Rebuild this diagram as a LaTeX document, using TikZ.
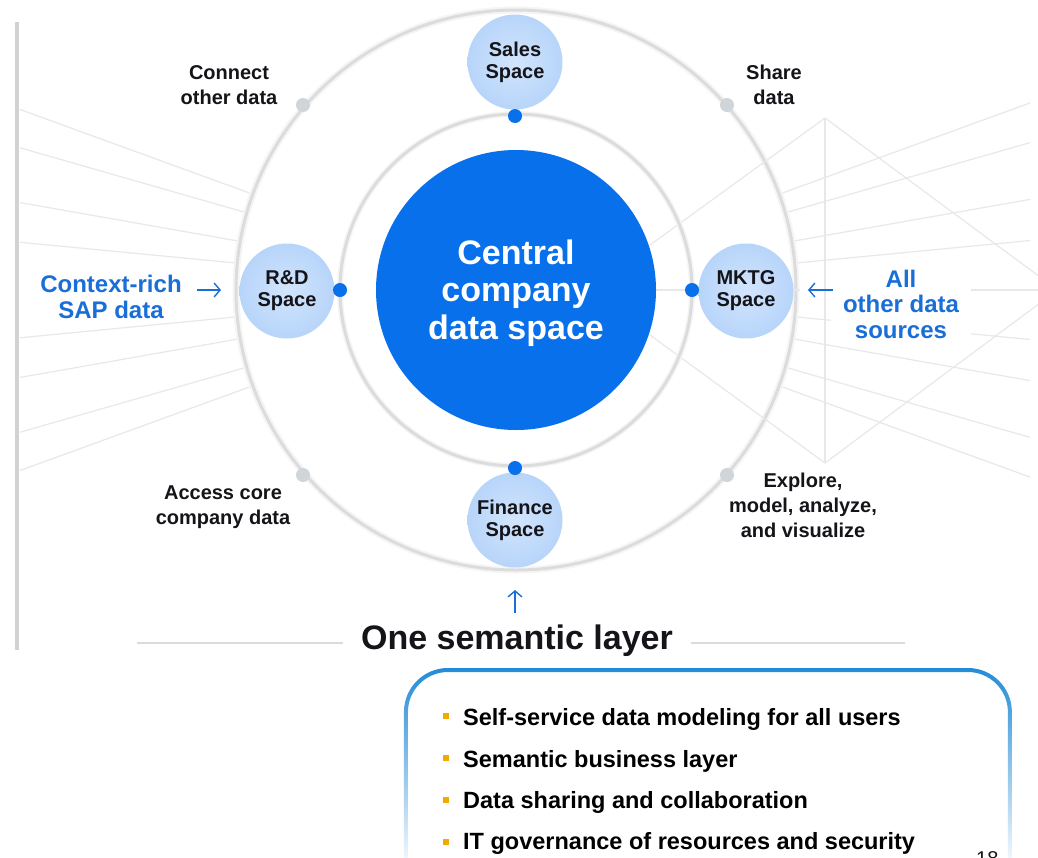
\documentclass[tikz,border=0pt]{standalone}
\usepackage{fontspec}
\setmainfont{Liberation Sans}
\usetikzlibrary{arrows.meta,fadings}
\definecolor{cblue}{RGB}{8,112,235}
\definecolor{lblue}{RGB}{25,110,215}
\definecolor{satin}{RGB}{210,229,253}
\definecolor{satout}{RGB}{150,192,245}
\definecolor{ringgray}{RGB}{220,220,220}
\definecolor{linegray}{RGB}{232,232,232}
\definecolor{dotgray}{RGB}{208,213,218}
\definecolor{boxblue}{RGB}{35,140,215}
\definecolor{bulletorange}{RGB}{242,170,0}
\definecolor{txt}{RGB}{20,20,25}
\pgfdeclareradialshading{satshade}{\pgfpoint{0bp}{0bp}}{color(0bp)=(satin); color(25bp)=(satin!55!satout); color(50bp)=(satout)}
\begin{document}
\begin{tikzpicture}[x=1pt,y=-1pt,
  radline/.style={draw=linegray, line width=1.2pt},
  ringline/.style={draw=ringgray, line width=3pt},
  sat/.style={circle, minimum size=95pt, inner sep=0pt, shading=satshade, align=center, text=txt, font=\fontsize{20}{22}\selectfont\bfseries},
  bdot/.style={circle, fill=cblue, minimum size=14pt, inner sep=0pt},
  gdot/.style={circle, fill=dotgray, minimum size=14pt, inner sep=0pt},
  lbl/.style={align=center, text=txt, font=\fontsize{20}{25}\selectfont\bfseries, inner sep=1pt},
  bluelbl/.style={align=center, text=lblue, font=\fontsize{24}{25.5}\selectfont\bfseries, inner sep=1pt},
  barrow/.style={draw=lblue, line width=1.4pt, -{Straight Barb[length=6pt,width=14pt]}},
  bulletsq/.style={rectangle, fill=bulletorange, minimum width=6pt, minimum height=6pt, inner sep=0pt},
  boxtext/.style={anchor=base west, text=black, font=\fontsize{23.5}{28}\selectfont\bfseries, inner sep=0pt},
  sepline/.style={draw=gray!28, line width=2pt},
]
\clip (0,0) rectangle (1038,857);
\fill[white] (0,0) rectangle (1038,857);

% left vertical bar
\fill[gray!35] (15,22) rectangle (18.5,650);

% radial background lines
\coordinate (C) at (516,290);
\foreach \a in {5.5,10,16,20}{
  \pgfmathsetmacro\dl{496*tan(\a)}
  \pgfmathsetmacro\dr{514*tan(\a)}
  \draw[radline] (C) -- (20,290-\dl);
  \draw[radline] (C) -- (20,290+\dl);
  \draw[radline] (C) -- (1030,290-\dr);
  \draw[radline] (C) -- (1030,290+\dr);
}

% outer ring
\fill[white] (C) circle (280);
\draw[draw=gray!8, line width=7pt] (C) circle (280);
\draw[ringline] (C) circle (280);

% kite lines on the right
\coordinate (kt) at (825,118);
\coordinate (kb) at (825,463);
\coordinate (ka) at (650,245);
\coordinate (kc) at (650,335);
\coordinate (kr1) at (1040,277);
\coordinate (kr2) at (1040,303);
\coordinate (hr) at (1038,290);
\draw[radline] (ka) -- (kt) -- (kr1);
\draw[radline] (kc) -- (kb) -- (kr2);
\draw[radline] (kt) -- (kb);
\draw[radline] (C) -- (hr);

% middle ring
\draw[draw=gray!8, line width=6pt] (C) circle (176);
\draw[ringline] (C) circle (176);

% central circle
\node[circle, fill=cblue, minimum size=280pt, inner sep=0pt] (central) at (516,290) {};
\node[align=center, text=white, inner sep=0pt,
      font=\fontsize{34}{37.5}\selectfont\bfseries] (centraltxt) at (516,293) {Central\\company\\data space};

% grey dots on outer ring
\node[gdot] (g1) at (303,105) {};
\node[gdot] (g2) at (727,105) {};
\node[gdot] (g3) at (303,475) {};
\node[gdot] (g4) at (727,475) {};

% satellites
\node[sat] (sales) at (515,62) {Sales\\Space};
\node[sat] (finance) at (515,520) {Finance\\Space};
\node[sat] (rd) at (287,291) {R\&D\\Space};
\node[sat] (mktg) at (746,291) {MKTG\\Space};

% blue dots on middle ring
\node[bdot] (dsales) at (515,116) {};
\node[bdot] (dfin) at (515,468) {};
\node[bdot] (drd) at (340,290) {};
\node[bdot] (dmktg) at (692,290) {};

% corner labels
\node[lbl] (connect) at (229,85) {Connect\\other data};
\node[lbl] (share) at (774,85) {Share\\data};
\node[lbl] (access) at (223,507) {Access core\\company data};
\node[lbl] (explore) at (803,505) {Explore,\\model, analyze,\\and visualize};

% side labels with arrows
\node[bluelbl] (ctx) at (111,297) {Context-rich\\SAP data};
\node[bluelbl, fill=white, inner xsep=12pt, inner ysep=2pt] (other) at (901,304) {All\\other data\\sources};
\coordinate (la1) at (197,290);
\coordinate (la2) at (221,290);
\coordinate (ra1) at (833,290);
\coordinate (ra2) at (808,290);
\draw[barrow] (la1) -- (la2);
\fill[white] (800,283) rectangle (823,297);
\draw[barrow] (ra1) -- (ra2);

% one semantic layer
\node[inner sep=0pt, text=txt, font=\fontsize{34}{34}\selectfont\bfseries] (osl) at (517,641) {One semantic layer};
\coordinate (sl1) at (137,643);
\coordinate (sl2) at (343,643);
\coordinate (sr1) at (691,643);
\coordinate (sr2) at (905,643);
\draw[sepline] (sl1) -- (sl2);
\draw[sepline] (sr1) -- (sr2);
\coordinate (ua1) at (515,613);
\coordinate (ua2) at (515,590);
\draw[barrow] (ua1) -- (ua2);

% bottom box
\draw[draw=boxblue, line width=4pt, rounded corners=42pt, path fading=south]
  (406,870) -- (406,670) -- (1010,670) -- (1010,870);

\node[bulletsq] (b1) at (446,716) {};
\node[bulletsq] (b2) at (446,758) {};
\node[bulletsq] (b3) at (446,800) {};
\node[bulletsq] (b4) at (446,842) {};
\node[boxtext] (t1) at (463,725) {Self-service data modeling for all users};
\node[boxtext] (t2) at (463,767) {Semantic business layer};
\node[boxtext] (t3) at (463,808) {Data sharing and collaboration};
\node[boxtext] (t4) at (463,849) {IT governance of resources and security};

% page number (cut off at the lower edge, as in the reference)
\node[anchor=north west, inner sep=0pt, text=txt, font=\fontsize{20}{20}\selectfont] (pg) at (976,851) {18};
\end{tikzpicture}
\end{document}
